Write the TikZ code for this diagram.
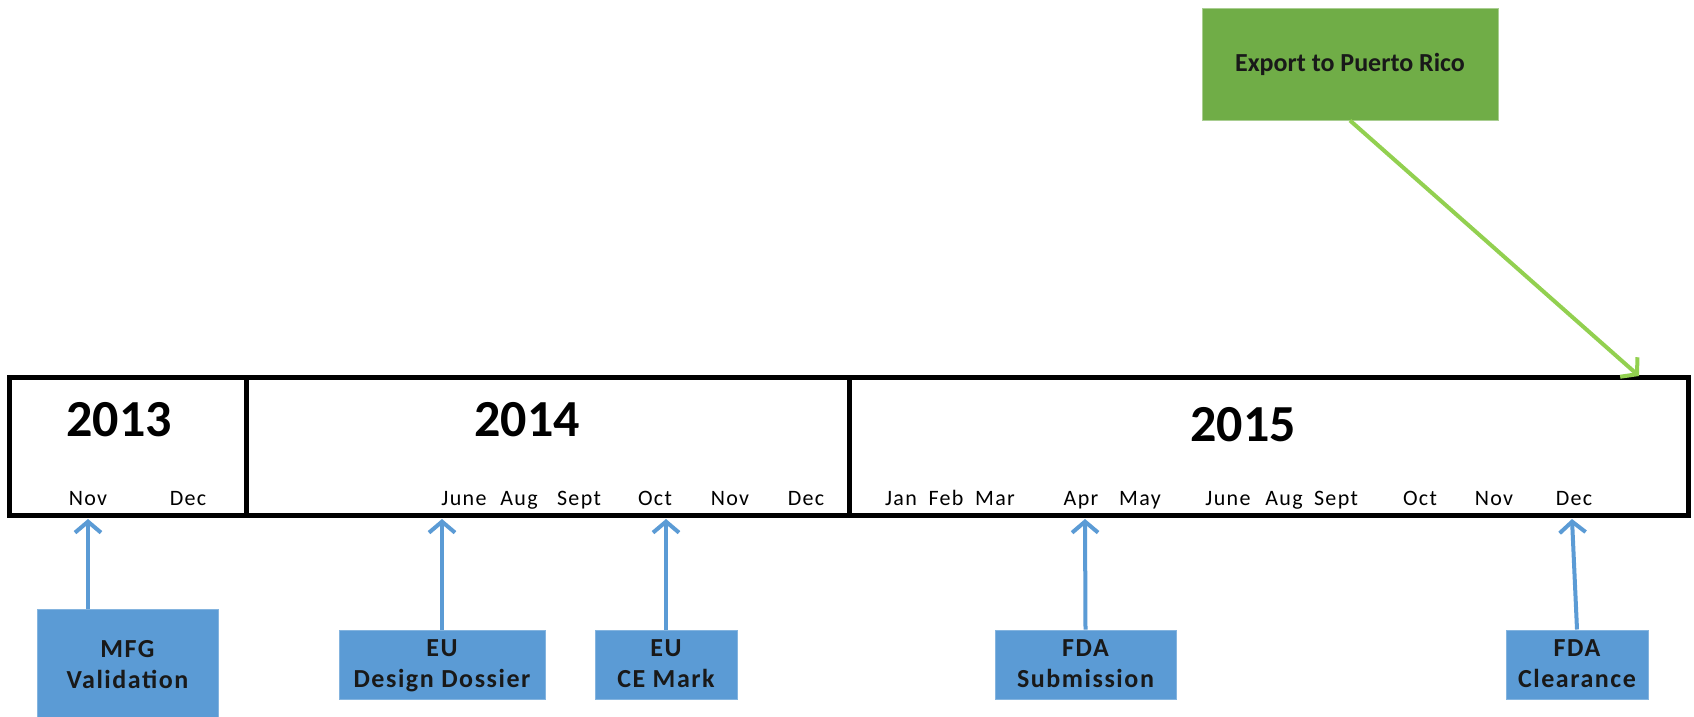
\documentclass[tikz,border=0pt]{standalone}
\usepackage{fontspec}
\setmainfont{Carlito}
\newfontfamily\lsfont[LetterSpace=6]{Carlito}
\usetikzlibrary{arrows.meta}
\definecolor{msblue}{HTML}{5B9BD5}
\definecolor{msgreen}{HTML}{70AD47}
\definecolor{lgreen}{HTML}{92D050}
\begin{document}
\begin{tikzpicture}[x=1pt,y=-1pt,
  yearlbl/.style={font=\bfseries\fontsize{52}{60}\selectfont, anchor=base, inner sep=0pt},
  monthlbl/.style={font=\lsfont\fontsize{22}{26}\selectfont, anchor=base, inner sep=0pt},
  evbox/.style={fill=msblue, draw=msblue!75!white, line width=1pt, font=\lsfont\bfseries\fontsize{26}{31}\selectfont, align=center, inner sep=0pt, text=black!90},
  greenbox/.style={fill=msgreen, draw=msgreen!60!white, line width=1pt, font=\bfseries\fontsize{26}{31}\selectfont, inner sep=0pt, text=black!90},
  bluearrow/.style={draw=msblue, line width=4pt, -{Straight Barb[length=11pt,width=26pt,line width=4pt]}},
  greenarrow/.style={draw=lgreen, line width=4pt, -{Straight Barb[length=11pt,width=26pt,line width=4pt]}},
  tline/.style={draw=black, line width=5pt}
]
\useasboundingbox (0,0) rectangle (1694,716);
\fill[white] (0,0) rectangle (1694,716);

% timeline
\draw[tline] (9,377) rectangle (1688,515);
\draw[tline] (246,377) -- (246,515);
\draw[tline] (849,377) -- (849,515);

% years
\node[yearlbl] (y2013) at (119,436) {2013};
\node[yearlbl] (y2014) at (527,436) {2014};
\node[yearlbl] (y2015) at (1243,441) {2015};

% months
\node[monthlbl] (m13nov) at (88,505) {Nov};
\node[monthlbl] (m13dec) at (188,505) {Dec};
\node[monthlbl] (m14jun) at (464,505) {June};
\node[monthlbl] (m14aug) at (519,505) {Aug};
\node[monthlbl] (m14sep) at (579,505) {Sept};
\node[monthlbl] (m14oct) at (655,505) {Oct};
\node[monthlbl] (m14nov) at (730,505) {Nov};
\node[monthlbl] (m14dec) at (806,505) {Dec};
\node[monthlbl] (m15jan) at (901,505) {Jan};
\node[monthlbl] (m15feb) at (946,505) {Feb};
\node[monthlbl] (m15mar) at (995,505) {Mar};
\node[monthlbl] (m15apr) at (1081,505) {Apr};
\node[monthlbl] (m15may) at (1140,505) {May};
\node[monthlbl] (m15jun) at (1228,505) {June};
\node[monthlbl] (m15aug) at (1284,505) {Aug};
\node[monthlbl] (m15sep) at (1336,505) {Sept};
\node[monthlbl] (m15oct) at (1420,505) {Oct};
\node[monthlbl] (m15nov) at (1494,505) {Nov};
\node[monthlbl] (m15dec) at (1574,505) {Dec};

% arrow targets on the timeline
\coordinate (t1) at (88,519);
\coordinate (t2) at (442,519);
\coordinate (t3) at (666,519);
\coordinate (t4) at (1085,519);
\coordinate (t5) at (1572,519);
\coordinate (t6) at (1639,376);

% event boxes
\node[evbox, minimum width=181pt, minimum height=112pt] (mfg) at (127.5,665) {MFG\\Validation};
\node[evbox, minimum width=206pt, minimum height=69pt, text depth=2pt] (dd) at (442,664.5) {EU\\Design Dossier};
\node[evbox, minimum width=142pt, minimum height=69pt, text depth=2pt] (ce) at (666,664.5) {EU\\CE Mark};
\node[evbox, minimum width=181pt, minimum height=69pt, text depth=2pt] (sub) at (1085.5,664.5) {FDA\\Submission};
\node[evbox, minimum width=142pt, minimum height=69pt, text depth=2pt] (clr) at (1577,664.5) {FDA\\Clearance};

\node[greenbox, minimum width=296pt, minimum height=112pt] (exp) at (1350,64) {Export to Puerto Rico};

% connectors
\draw[bluearrow] (mfg.north -| t1) -- (t1);
\draw[bluearrow] (dd.north) -- (t2);
\draw[bluearrow] (ce.north) -- (t3);
\draw[bluearrow] (sub.north) -- (t4);
\draw[bluearrow] (clr.north) -- (t5);
\draw[greenarrow] (exp.south) -- (t6);
\end{tikzpicture}
\end{document}
